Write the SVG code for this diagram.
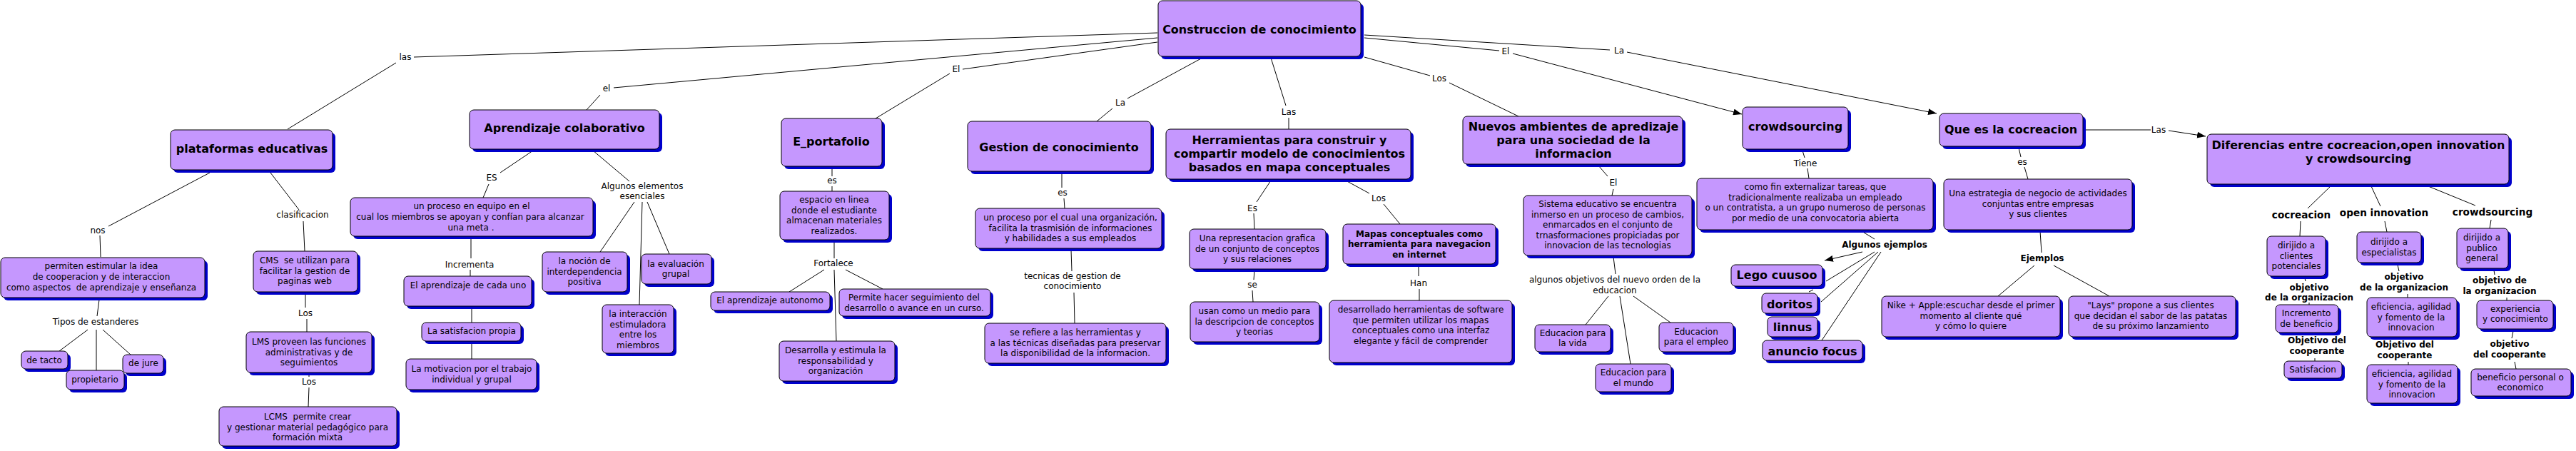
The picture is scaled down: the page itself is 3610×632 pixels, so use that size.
<svg xmlns="http://www.w3.org/2000/svg" width="3610" height="632" viewBox="0 0 3610 632">
<style>
.sh{fill:#0000cc}
.bx{fill:#c597fe;stroke:#000;stroke-width:1}
text{font-family:"DejaVu Sans",Verdana,sans-serif;font-size:12px;fill:#000;text-anchor:middle}
.b16{font-size:16px;font-weight:bold}
.b12{font-weight:bold}
.b14{font-size:13.6px;font-weight:bold}
#connectors line{stroke:#000;stroke-width:1;fill:none}
.ar{marker-end:url(#arr)}
</style>
<defs>
<marker id="arr" markerUnits="userSpaceOnUse" markerWidth="13" markerHeight="9" refX="12" refY="4.5" orient="auto"><path d="M0,0 L12,4.5 L0,9 z" fill="#000"/></marker>
</defs>
<rect width="3610" height="632" fill="#fff"/>
<g id="connectors">
<line x1="580" y1="80" x2="1622" y2="46"/>
<line x1="403" y1="181" x2="555" y2="88"/>
<line x1="294" y1="242" x2="152" y2="317"/>
<line x1="140" y1="330" x2="141" y2="360"/>
<line x1="379" y1="242" x2="419" y2="294"/>
<line x1="425" y1="310" x2="427" y2="352"/>
<line x1="139" y1="420" x2="136" y2="443"/>
<line x1="123" y1="462" x2="83" y2="492"/>
<line x1="135" y1="462" x2="135" y2="519"/>
<line x1="144" y1="462" x2="183" y2="497"/>
<line x1="428" y1="410" x2="428" y2="431"/>
<line x1="430" y1="447" x2="430" y2="465"/>
<line x1="433" y1="524" x2="433" y2="528"/>
<line x1="433" y1="543" x2="432" y2="570"/>
<line x1="860" y1="123" x2="1622" y2="53"/>
<line x1="841" y1="133" x2="822" y2="154"/>
<line x1="747" y1="211" x2="701" y2="242"/>
<line x1="685" y1="258" x2="677" y2="277"/>
<line x1="831" y1="211" x2="882" y2="254"/>
<line x1="889" y1="283" x2="841" y2="353"/>
<line x1="900" y1="283" x2="896" y2="427"/>
<line x1="907" y1="283" x2="938" y2="356"/>
<line x1="660" y1="333" x2="660" y2="362"/>
<line x1="659" y1="378" x2="659" y2="387"/>
<line x1="661" y1="431" x2="661" y2="452"/>
<line x1="661" y1="480" x2="661" y2="503"/>
<line x1="1349" y1="97" x2="1622" y2="59"/>
<line x1="1331" y1="103" x2="1227" y2="166"/>
<line x1="1166" y1="235" x2="1166" y2="247"/>
<line x1="1166" y1="261" x2="1166" y2="268"/>
<line x1="1169" y1="338" x2="1169" y2="362"/>
<line x1="1155" y1="378" x2="1106" y2="409"/>
<line x1="1169" y1="378" x2="1172" y2="478"/>
<line x1="1185" y1="378" x2="1237" y2="405"/>
<line x1="1685" y1="81" x2="1580" y2="138"/>
<line x1="1559" y1="152" x2="1537" y2="170"/>
<line x1="1488" y1="242" x2="1488" y2="263"/>
<line x1="1491" y1="278" x2="1492" y2="292"/>
<line x1="1501" y1="350" x2="1502" y2="380"/>
<line x1="1505" y1="410" x2="1506" y2="453"/>
<line x1="1781" y1="81" x2="1802" y2="148"/>
<line x1="1806" y1="165" x2="1806" y2="181"/>
<line x1="1781" y1="253" x2="1761" y2="283"/>
<line x1="1757" y1="299" x2="1758" y2="321"/>
<line x1="1758" y1="379" x2="1757" y2="392"/>
<line x1="1755" y1="407" x2="1756" y2="423"/>
<line x1="1886" y1="253" x2="1919" y2="271"/>
<line x1="1939" y1="286" x2="1962" y2="314"/>
<line x1="1988" y1="372" x2="1988" y2="387"/>
<line x1="1989" y1="405" x2="1989" y2="421"/>
<line x1="1912" y1="80" x2="2004" y2="106"/>
<line x1="2031" y1="116" x2="2128" y2="163"/>
<line x1="1912" y1="53" x2="2101" y2="71"/>
<line class="ar" x1="2120" y1="75" x2="2441" y2="160"/>
<line x1="1912" y1="49" x2="2256" y2="70"/>
<line class="ar" x1="2280" y1="73" x2="2714" y2="159"/>
<line x1="2240" y1="232" x2="2253" y2="247"/>
<line x1="2261" y1="265" x2="2259" y2="274"/>
<line x1="2261" y1="360" x2="2264" y2="384"/>
<line x1="2254" y1="415" x2="2222" y2="455"/>
<line x1="2270" y1="415" x2="2285" y2="510"/>
<line x1="2289" y1="415" x2="2341" y2="452"/>
<line x1="2526" y1="211" x2="2529" y2="221"/>
<line x1="2533" y1="236" x2="2535" y2="250"/>
<line x1="2609" y1="324" x2="2627" y2="335"/>
<line class="ar" x1="2610" y1="353" x2="2557" y2="365"/>
<line x1="2627" y1="353" x2="2559" y2="394"/>
<line x1="2632" y1="353" x2="2552" y2="423"/>
<line x1="2636" y1="353" x2="2553" y2="477"/>
<line x1="2535" y1="409" x2="2541" y2="406"/>
<line x1="2829" y1="207" x2="2832" y2="220"/>
<line x1="2837" y1="234" x2="2842" y2="251"/>
<line x1="2859" y1="324" x2="2861" y2="354"/>
<line x1="2851" y1="372" x2="2800" y2="415"/>
<line x1="2878" y1="372" x2="2956" y2="415"/>
<line x1="2921" y1="182" x2="3014" y2="182"/>
<line class="ar" x1="3039" y1="183" x2="3091" y2="191"/>
<line x1="3266" y1="261" x2="3234" y2="292"/>
<line x1="3323" y1="261" x2="3336" y2="289"/>
<line x1="3403" y1="261" x2="3469" y2="288"/>
<line x1="3224" y1="310" x2="3223" y2="331"/>
<line x1="3342" y1="310" x2="3345" y2="325"/>
<line x1="3491" y1="308" x2="3489" y2="320"/>
<line x1="3230" y1="390" x2="3231" y2="394"/>
<line x1="3236" y1="424" x2="3236" y2="427"/>
<line x1="3244" y1="502" x2="3244" y2="506"/>
<line x1="3360" y1="371" x2="3362" y2="380"/>
<line x1="3374" y1="412" x2="3374" y2="417"/>
<line x1="3375" y1="507" x2="3375" y2="511"/>
<line x1="3495" y1="379" x2="3496" y2="385"/>
<line x1="3513" y1="417" x2="3513" y2="421"/>
<line x1="3522" y1="464" x2="3520" y2="474"/>
<line x1="3524" y1="507" x2="3526" y2="517"/>
</g>
<g id="link-labels">
<text x="568" y="84">las</text>
<text x="137" y="327">nos</text>
<text x="424" y="305">clasificacion</text>
<text x="134" y="455">Tipos de estanderes</text>
<text x="428" y="443">Los</text>
<text x="433" y="539">Los</text>
<text x="850" y="128">el</text>
<text x="689" y="253">ES</text>
<text x="900" y="265">Algunos elementos<tspan x="900" y="279">esenciales</tspan></text>
<text x="658" y="375">Incrementa</text>
<text x="1340" y="101">El</text>
<text x="1166" y="257">es</text>
<text x="1168" y="373">Fortalece</text>
<text x="1570" y="148">La</text>
<text x="1489" y="274">es</text>
<text x="1503" y="391">tecnicas de gestion de<tspan x="1503" y="405">conocimiento</tspan></text>
<text x="1806" y="161">Las</text>
<text x="1755" y="296">Es</text>
<text x="1755" y="403">se</text>
<text x="1932" y="282">Los</text>
<text x="1988" y="401">Han</text>
<text x="2017" y="114">Los</text>
<text x="2110" y="76">El</text>
<text x="2269" y="75">La</text>
<text x="2261" y="260">El</text>
<text x="2263" y="396">algunos objetivos del nuevo orden de la<tspan x="2263" y="411">educacion</tspan></text>
<text x="2530" y="233">Tiene</text>
<text x="2834" y="231">es</text>
<text class="b12" x="2641" y="347">Algunos ejemplos</text>
<text class="b12" x="2862" y="366">Ejemplos</text>
<text x="3025" y="186">Las</text>
<text class="b14" x="3225" y="306">cocreacion</text>
<text class="b14" x="3341" y="303">open innovation</text>
<text class="b14" x="3493" y="302">crowdsourcing</text>
<text class="b12" x="3236" y="407">objetivo<tspan x="3236" y="421">de la organizacion</tspan></text>
<text class="b12" x="3247" y="481">Objetivo del<tspan x="3247" y="496">cooperante</tspan></text>
<text class="b12" x="3369" y="392">objetivo<tspan x="3369" y="407">de la organizacion</tspan></text>
<text class="b12" x="3370" y="487">Objetivo del<tspan x="3370" y="502">cooperante</tspan></text>
<text class="b12" x="3503" y="397">objetivo de<tspan x="3503" y="412">la organizacion</tspan></text>
<text class="b12" x="3517" y="486">objetivo<tspan x="3517" y="501">del cooperante</tspan></text>
</g>
<g id="n-root"><rect class="sh" x="1627" y="5" width="284" height="78" rx="6"/><rect class="bx" x="1623" y="1" width="284" height="78" rx="6"/><text class="b16" x="1765" y="47">Construccion de conocimiento</text></g>
<g id="n-plataformas"><rect class="sh" x="243" y="186" width="227" height="56" rx="6"/><rect class="bx" x="239" y="182" width="227" height="56" rx="6"/><text class="b16" x="353" y="214">plataformas educativas</text></g>
<g id="n-permiten"><rect class="sh" x="5" y="365" width="286" height="56" rx="6"/><rect class="bx" x="1" y="361" width="286" height="56" rx="6"/><text x="142" y="377">permiten estimular la idea<tspan x="142" y="392">de cooperacion y de interaccion</tspan><tspan x="142" y="407" xml:space="preserve">como aspectos  de aprendizaje y enseñanza</tspan></text></g>
<g id="n-detacto"><rect class="sh" x="34" y="496" width="65" height="25" rx="6"/><rect class="bx" x="30" y="492" width="65" height="25" rx="6"/><text x="62" y="509">de tacto</text></g>
<g id="n-propietario"><rect class="sh" x="97" y="523" width="81" height="27" rx="6"/><rect class="bx" x="93" y="519" width="81" height="27" rx="6"/><text x="133" y="536">propietario</text></g>
<g id="n-dejure"><rect class="sh" x="176" y="501" width="57" height="26" rx="6"/><rect class="bx" x="172" y="497" width="57" height="26" rx="6"/><text x="201" y="513">de jure</text></g>
<g id="n-cms"><rect class="sh" x="359" y="356" width="146" height="57" rx="6"/><rect class="bx" x="355" y="352" width="146" height="57" rx="6"/><text x="427" y="369" xml:space="preserve">CMS  se utilizan para<tspan x="427" y="384">facilitar la gestion de</tspan><tspan x="427" y="398">paginas web</tspan></text></g>
<g id="n-lms"><rect class="sh" x="349" y="469" width="176" height="57" rx="6"/><rect class="bx" x="345" y="465" width="176" height="57" rx="6"/><text x="433" y="483">LMS proveen las funciones<tspan x="433" y="498">administrativas y de</tspan><tspan x="433" y="512">seguimientos</tspan></text></g>
<g id="n-lcms"><rect class="sh" x="311" y="574" width="249" height="55" rx="6"/><rect class="bx" x="307" y="570" width="249" height="55" rx="6"/><text x="431" y="588" xml:space="preserve">LCMS  permite crear<tspan x="431" y="603">y gestionar material pedagógico para</tspan><tspan x="431" y="617">formación mixta</tspan></text></g>
<g id="n-aprendizaje"><rect class="sh" x="662" y="158" width="266" height="55" rx="6"/><rect class="bx" x="658" y="154" width="266" height="55" rx="6"/><text class="b16" x="791" y="185">Aprendizaje colaborativo</text></g>
<g id="n-unproceso"><rect class="sh" x="495" y="281" width="340" height="54" rx="6"/><rect class="bx" x="491" y="277" width="340" height="54" rx="6"/><text x="661" y="293">un proceso en equipo en el<tspan x="659" y="308">cual los miembros se apoyan y confían para alcanzar</tspan><tspan x="660" y="323">una meta .</tspan></text></g>
<g id="n-aprendcada"><rect class="sh" x="570" y="391" width="179" height="42" rx="6"/><rect class="bx" x="566" y="387" width="179" height="42" rx="6"/><text x="656" y="404">El aprendizaje de cada uno</text></g>
<g id="n-satisfacion"><rect class="sh" x="595" y="456" width="139" height="26" rx="6"/><rect class="bx" x="591" y="452" width="139" height="26" rx="6"/><text x="661" y="468">La satisfacion propia</text></g>
<g id="n-motivacion"><rect class="sh" x="573" y="507" width="183" height="43" rx="6"/><rect class="bx" x="569" y="503" width="183" height="43" rx="6"/><text x="661" y="521">La motivacion por el trabajo<tspan x="661" y="536">individual y grupal</tspan></text></g>
<g id="n-nocion"><rect class="sh" x="764" y="357" width="119" height="56" rx="6"/><rect class="bx" x="760" y="353" width="119" height="56" rx="6"/><text x="819" y="370">la noción de<tspan x="819" y="385">interdependencia</tspan><tspan x="819" y="399">positiva</tspan></text></g>
<g id="n-evaluacion"><rect class="sh" x="903" y="360" width="98" height="42" rx="6"/><rect class="bx" x="899" y="356" width="98" height="42" rx="6"/><text x="947" y="374">la evaluación<tspan x="947" y="388">grupal</tspan></text></g>
<g id="n-interaccion"><rect class="sh" x="848" y="431" width="100" height="68" rx="6"/><rect class="bx" x="844" y="427" width="100" height="68" rx="6"/><text x="894" y="444">la interacción<tspan x="894" y="459">estimuladora</tspan><tspan x="894" y="473">entre los</tspan><tspan x="894" y="488">miembros</tspan></text></g>
<g id="n-eportafolio"><rect class="sh" x="1099" y="170" width="141" height="67" rx="6"/><rect class="bx" x="1095" y="166" width="141" height="67" rx="6"/><text class="b16" x="1165" y="204">E_portafolio</text></g>
<g id="n-espacio"><rect class="sh" x="1097" y="272" width="153" height="68" rx="6"/><rect class="bx" x="1093" y="268" width="153" height="68" rx="6"/><text x="1169" y="284">espacio en linea<tspan x="1169" y="299">donde el estudiante</tspan><tspan x="1169" y="313">almacenan materiales</tspan><tspan x="1169" y="328">realizados.</tspan></text></g>
<g id="n-autonomo"><rect class="sh" x="1000" y="413" width="167" height="26" rx="6"/><rect class="bx" x="996" y="409" width="167" height="26" rx="6"/><text x="1079" y="425">El aprendizaje autonomo</text></g>
<g id="n-permite"><rect class="sh" x="1180" y="409" width="212" height="38" rx="6"/><rect class="bx" x="1176" y="405" width="212" height="38" rx="6"/><text x="1281" y="421">Permite hacer seguimiento del<tspan x="1281" y="436">desarrollo o avance en un curso.</tspan></text></g>
<g id="n-desarrolla"><rect class="sh" x="1096" y="482" width="162" height="56" rx="6"/><rect class="bx" x="1092" y="478" width="162" height="56" rx="6"/><text x="1171" y="495">Desarrolla y estimula la<tspan x="1171" y="510">responsabilidad y</tspan><tspan x="1171" y="524">organización</tspan></text></g>
<g id="n-gestion"><rect class="sh" x="1360" y="174" width="257" height="70" rx="6"/><rect class="bx" x="1356" y="170" width="257" height="70" rx="6"/><text class="b16" x="1484" y="212">Gestion de conocimiento</text></g>
<g id="n-procesoorg"><rect class="sh" x="1371" y="296" width="261" height="56" rx="6"/><rect class="bx" x="1367" y="292" width="261" height="56" rx="6"/><text x="1500" y="309">un proceso por el cual una organización,<tspan x="1500" y="324">facilita la trasmisión de informaciones</tspan><tspan x="1500" y="338">y habilidades a sus empleados</tspan></text></g>
<g id="n-serefiere"><rect class="sh" x="1384" y="457" width="254" height="56" rx="6"/><rect class="bx" x="1380" y="453" width="254" height="56" rx="6"/><text x="1507" y="470">se refiere a las herramientas y<tspan x="1507" y="485">a las técnicas diseñadas para preservar</tspan><tspan x="1507" y="499">la disponibilidad de la informacion.</tspan></text></g>
<g id="n-herramientas"><rect class="sh" x="1638" y="185" width="343" height="70" rx="6"/><rect class="bx" x="1634" y="181" width="343" height="70" rx="6"/><text class="b16" x="1807" y="202">Herramientas para construir y<tspan x="1807" y="221">compartir modelo de conocimientos</tspan><tspan x="1807" y="240">basados en mapa conceptuales</tspan></text></g>
<g id="n-representacion"><rect class="sh" x="1671" y="325" width="191" height="56" rx="6"/><rect class="bx" x="1667" y="321" width="191" height="56" rx="6"/><text x="1762" y="338">Una representacion grafica<tspan x="1762" y="353">de un conjunto de conceptos</tspan><tspan x="1762" y="367">y sus relaciones</tspan></text></g>
<g id="n-usan"><rect class="sh" x="1672" y="427" width="181" height="56" rx="6"/><rect class="bx" x="1668" y="423" width="181" height="56" rx="6"/><text x="1758" y="440">usan como un medio para<tspan x="1758" y="455">la descripcion de conceptos</tspan><tspan x="1758" y="469">y teorias</tspan></text></g>
<g id="n-mapas"><rect class="sh" x="1886" y="318" width="214" height="56" rx="6"/><rect class="bx" x="1882" y="314" width="214" height="56" rx="6"/><text class="b12" x="1989" y="332">Mapas conceptuales como<tspan x="1989" y="346">herramienta para navegacion</tspan><tspan x="1989" y="361">en internet</tspan></text></g>
<g id="n-desarrollado"><rect class="sh" x="1867" y="425" width="256" height="87" rx="6"/><rect class="bx" x="1863" y="421" width="256" height="87" rx="6"/><text x="1991" y="438">desarrollado herramientas de software<tspan x="1991" y="453">que permiten utilizar los mapas</tspan><tspan x="1991" y="467">conceptuales como una interfaz</tspan><tspan x="1991" y="482">elegante y fácil de comprender</tspan></text></g>
<g id="n-nuevos"><rect class="sh" x="2054" y="167" width="308" height="67" rx="6"/><rect class="bx" x="2050" y="163" width="308" height="67" rx="6"/><text class="b16" x="2205" y="183">Nuevos ambientes de apredizaje<tspan x="2205" y="202">para una sociedad de la</tspan><tspan x="2205" y="221">informacion</tspan></text></g>
<g id="n-sistema"><rect class="sh" x="2139" y="278" width="236" height="84" rx="6"/><rect class="bx" x="2135" y="274" width="236" height="84" rx="6"/><text x="2253" y="290">Sistema educativo se encuentra<tspan x="2253" y="305">inmerso en un proceso de cambios,</tspan><tspan x="2253" y="319">enmarcados en el conjunto de</tspan><tspan x="2253" y="334">trnasformaciones propiciadas por</tspan><tspan x="2253" y="348">innovacion de las tecnologias</tspan></text></g>
<g id="n-vida"><rect class="sh" x="2155" y="459" width="106" height="38" rx="6"/><rect class="bx" x="2151" y="455" width="106" height="38" rx="6"/><text x="2204" y="471">Educacion para<tspan x="2204" y="485">la vida</tspan></text></g>
<g id="n-mundo"><rect class="sh" x="2240" y="514" width="106" height="39" rx="6"/><rect class="bx" x="2236" y="510" width="106" height="39" rx="6"/><text x="2289" y="526">Educacion para<tspan x="2289" y="541">el mundo</tspan></text></g>
<g id="n-empleo"><rect class="sh" x="2329" y="456" width="104" height="41" rx="6"/><rect class="bx" x="2325" y="452" width="104" height="41" rx="6"/><text x="2377" y="469">Educacion<tspan x="2377" y="483">para el empleo</tspan></text></g>
<g id="n-crowdsourcing"><rect class="sh" x="2446" y="154" width="148" height="59" rx="6"/><rect class="bx" x="2442" y="150" width="148" height="59" rx="6"/><text class="b16" x="2516" y="183">crowdsourcing</text></g>
<g id="n-comofin"><rect class="sh" x="2382" y="254" width="331" height="72" rx="6"/><rect class="bx" x="2378" y="250" width="331" height="72" rx="6"/><text x="2544" y="266">como fin externalizar tareas, que<tspan x="2544" y="281">tradicionalmente realizaba un empleado</tspan><tspan x="2544" y="295">o un contratista, a un grupo numeroso de personas</tspan><tspan x="2544" y="310">por medio de una convocatoria abierta</tspan></text></g>
<g id="n-lego"><rect class="sh" x="2430" y="375" width="128" height="30" rx="6"/><rect class="bx" x="2426" y="371" width="128" height="30" rx="6"/><text class="b16" x="2490" y="391">Lego cuusoo</text></g>
<g id="n-doritos"><rect class="sh" x="2473" y="415" width="78" height="28" rx="6"/><rect class="bx" x="2469" y="411" width="78" height="28" rx="6"/><text class="b16" x="2508" y="432">doritos</text></g>
<g id="n-linnus"><rect class="sh" x="2481" y="448" width="70" height="28" rx="6"/><rect class="bx" x="2477" y="444" width="70" height="28" rx="6"/><text class="b16" x="2512" y="464">linnus</text></g>
<g id="n-focus"><rect class="sh" x="2474" y="481" width="140" height="28" rx="6"/><rect class="bx" x="2470" y="477" width="140" height="28" rx="6"/><text class="b16" x="2540" y="498">anuncio focus</text></g>
<g id="n-cocreacion"><rect class="sh" x="2722" y="163" width="201" height="46" rx="6"/><rect class="bx" x="2718" y="159" width="201" height="46" rx="6"/><text class="b16" x="2818" y="187">Que es la cocreacion</text></g>
<g id="n-estrategia"><rect class="sh" x="2728" y="255" width="264" height="71" rx="6"/><rect class="bx" x="2724" y="251" width="264" height="71" rx="6"/><text x="2856" y="275">Una estrategia de negocio de actividades<tspan x="2856" y="290">conjuntas entre empresas</tspan><tspan x="2856" y="304">y sus clientes</tspan></text></g>
<g id="n-nike"><rect class="sh" x="2641" y="419" width="250" height="57" rx="6"/><rect class="bx" x="2637" y="415" width="250" height="57" rx="6"/><text x="2762" y="432">Nike + Apple:escuchar desde el primer<tspan x="2762" y="447">momento al cliente qué</tspan><tspan x="2762" y="461">y cómo lo quiere</tspan></text></g>
<g id="n-lays"><rect class="sh" x="2903" y="419" width="234" height="57" rx="6"/><rect class="bx" x="2899" y="415" width="234" height="57" rx="6"/><text x="3014" y="432">"Lays" propone a sus clientes<tspan x="3014" y="447">que decidan el sabor de las patatas</tspan><tspan x="3014" y="461">de su próximo lanzamiento</tspan></text></g>
<g id="n-diferencias"><rect class="sh" x="3097" y="192" width="423" height="70" rx="6"/><rect class="bx" x="3093" y="188" width="423" height="70" rx="6"/><text class="b16" x="3305" y="209">Diferencias entre cocreacion,open innovation<tspan x="3305" y="228">y crowdsourcing</tspan></text></g>
<g id="n-clientes"><rect class="sh" x="3181" y="335" width="82" height="56" rx="6"/><rect class="bx" x="3177" y="331" width="82" height="56" rx="6"/><text x="3218" y="348">dirijido a<tspan x="3218" y="363">clientes</tspan><tspan x="3218" y="377">potenciales</tspan></text></g>
<g id="n-incremento"><rect class="sh" x="3193" y="431" width="88" height="39" rx="6"/><rect class="bx" x="3189" y="427" width="88" height="39" rx="6"/><text x="3232" y="443">Incremento<tspan x="3232" y="458">de beneficio</tspan></text></g>
<g id="n-satisf2"><rect class="sh" x="3205" y="510" width="81" height="24" rx="6"/><rect class="bx" x="3201" y="506" width="81" height="24" rx="6"/><text x="3241" y="522">Satisfacion</text></g>
<g id="n-especialistas"><rect class="sh" x="3307" y="329" width="90" height="43" rx="6"/><rect class="bx" x="3303" y="325" width="90" height="43" rx="6"/><text x="3348" y="343">dirijido a<tspan x="3348" y="358">especialistas</tspan></text></g>
<g id="n-eficiencia1"><rect class="sh" x="3321" y="421" width="126" height="55" rx="6"/><rect class="bx" x="3317" y="417" width="126" height="55" rx="6"/><text x="3379" y="434">eficiencia, agilidad<tspan x="3379" y="449">y fomento de la</tspan><tspan x="3379" y="463">innovacion</tspan></text></g>
<g id="n-eficiencia2"><rect class="sh" x="3321" y="515" width="127" height="54" rx="6"/><rect class="bx" x="3317" y="511" width="127" height="54" rx="6"/><text x="3380" y="528">eficiencia, agilidad<tspan x="3380" y="543">y fomento de la</tspan><tspan x="3380" y="557">innovacion</tspan></text></g>
<g id="n-publico"><rect class="sh" x="3447" y="324" width="72" height="56" rx="6"/><rect class="bx" x="3443" y="320" width="72" height="56" rx="6"/><text x="3478" y="337">dirijido a<tspan x="3478" y="352">publico</tspan><tspan x="3478" y="366">general</tspan></text></g>
<g id="n-experiencia"><rect class="sh" x="3475" y="425" width="107" height="40" rx="6"/><rect class="bx" x="3471" y="421" width="107" height="40" rx="6"/><text x="3525" y="437">experiencia<tspan x="3525" y="451">y conocimiento</tspan></text></g>
<g id="n-beneficio"><rect class="sh" x="3467" y="521" width="140" height="38" rx="6"/><rect class="bx" x="3463" y="517" width="140" height="38" rx="6"/><text x="3532" y="533">beneficio personal o<tspan x="3532" y="547">economico</tspan></text></g>
</svg>
